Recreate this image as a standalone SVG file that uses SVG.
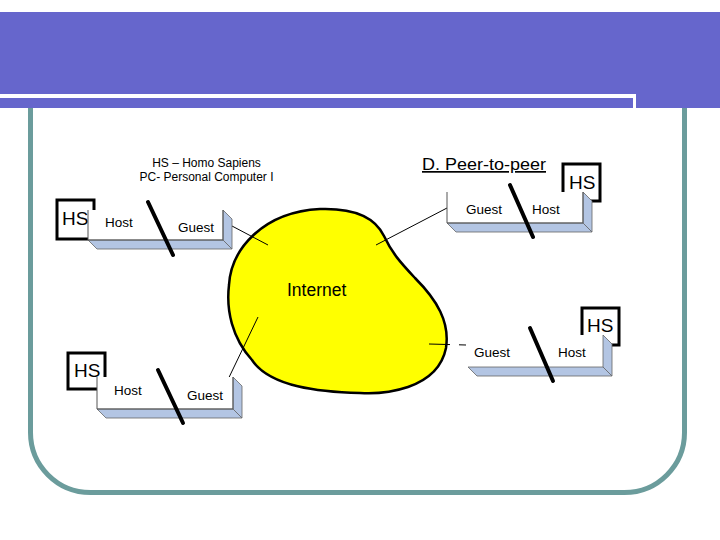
<svg xmlns="http://www.w3.org/2000/svg" width="720" height="540" viewBox="0 0 720 540">
<defs>
<style>
.hs{fill:none;stroke:#000;stroke-width:3}
.front{fill:#fff;stroke:none}
.edge{fill:none;stroke:#555;stroke-width:1}
.shade{fill:#B3C5E3;stroke:#666;stroke-width:0.8}
.slash{stroke:#000;stroke-width:4;stroke-linecap:round}
.lbl{font-family:"Liberation Sans",Arial,sans-serif;font-size:13.5px;fill:#000}
.hst{font-family:"Liberation Sans",Arial,sans-serif;font-size:19px;fill:#000}
.cap{font-family:"Liberation Sans",Arial,sans-serif;font-size:12px;fill:#000}
.conn{stroke:#000;stroke-width:1;fill:none}
</style>
</defs>
<rect width="720" height="540" fill="#fff"/>
<!-- frame -->
<rect x="30.5" y="40" width="654" height="452.5" rx="60" ry="60" fill="none" stroke="#6B9C9C" stroke-width="5"/>
<!-- banner -->
<rect x="0" y="12" width="720" height="96" fill="#6666CC"/>
<rect x="0" y="94" width="636" height="4" fill="#fff"/>
<rect x="633" y="98" width="3" height="10" fill="#fff"/>

<g id="captions">
<text class="cap" x="206.5" y="167" text-anchor="middle">HS – Homo Sapiens</text>
<text class="cap" x="206.5" y="181" text-anchor="middle">PC- Personal Computer I</text>
<text x="422" y="170" font-family="Liberation Sans, Arial, sans-serif" font-size="17" textLength="124" lengthAdjust="spacingAndGlyphs" text-decoration="underline">D. Peer-to-peer</text>
</g>

<g id="internet">
<path d="M 320 209 C 350 208, 374 215, 384 236 C 392 253, 400 262, 415 278 C 437 300, 450 322, 446 348 C 442 368, 428 380, 408 387 C 390 393, 375 394, 360 393 C 320 392, 270 387, 252 360 C 232 338, 226 310, 229 285 C 231 250, 262 212, 320 209 Z" fill="#FFFF00" stroke="#000" stroke-width="2.5"/>
<text x="287" y="296" font-family="Liberation Sans, Arial, sans-serif" font-size="17.5">Internet</text>
</g>

<g id="connectors">
<line class="conn" x1="232" y1="226" x2="268" y2="245"/>
<line class="conn" x1="376" y1="245" x2="447" y2="208"/>
<line class="conn" x1="429" y1="344" x2="466" y2="345" stroke-dasharray="21 9 8"/>
<line class="conn" x1="258" y1="317" x2="222" y2="392"/>
</g>

<g id="pc-top-left">
<rect class="hs" x="57" y="200" width="37" height="39"/>
<text class="hst" x="62" y="225">HS</text>
<rect class="front" x="88" y="210" width="135" height="30"/>
<polygon class="shade" points="223,210 232,219 232,249 223,240"/>
<polygon class="shade" points="88,240 223,240 232,249 97,249"/>
<polyline class="edge" points="88,210 88,240 223,240 223,210"/>
<text class="lbl" x="105" y="227">Host</text>
<text class="lbl" x="178" y="232">Guest</text>
<line class="slash" x1="148" y1="202" x2="173" y2="255"/>
</g>

<g id="pc-top-right">
<rect class="hs" x="563" y="164" width="37" height="37"/>
<text class="hst" x="569" y="189">HS</text>
<rect class="front" x="447" y="192" width="136" height="31"/>
<polygon class="shade" points="583,192 592,201 592,232 583,223"/>
<polygon class="shade" points="447,223 583,223 592,232 456,232"/>
<polyline class="edge" points="447,192 447,223 583,223 583,192"/>
<text class="lbl" x="466" y="214">Guest</text>
<text class="lbl" x="532" y="214">Host</text>
<line class="slash" x1="510" y1="185" x2="533" y2="237"/>
</g>

<g id="pc-mid-right">
<rect class="hs" x="582" y="308" width="37" height="37"/>
<text class="hst" x="587" y="332">HS</text>
<rect class="front" x="468" y="335" width="135" height="32"/>
<polygon class="shade" points="603,335 612,344 612,376 603,367"/>
<polygon class="shade" points="468,367 603,367 612,376 477,376"/>
<text class="lbl" x="474" y="357">Guest</text>
<text class="lbl" x="558" y="357">Host</text>
<line class="slash" x1="530" y1="328" x2="553" y2="381"/>
</g>

<g id="pc-bottom-left">
<rect class="hs" x="68" y="353" width="37" height="36"/>
<text class="hst" x="74" y="377">HS</text>
<rect class="front" x="97" y="377" width="136" height="32"/>
<polygon class="shade" points="233,377 242,386 242,418 233,409"/>
<polygon class="shade" points="97,409 233,409 242,418 106,418"/>
<polyline class="edge" points="97,377 97,409 233,409 233,377"/>
<text class="lbl" x="114" y="395">Host</text>
<text class="lbl" x="187" y="400">Guest</text>
<line class="slash" x1="158" y1="370" x2="183" y2="423"/>
</g>
</svg>
